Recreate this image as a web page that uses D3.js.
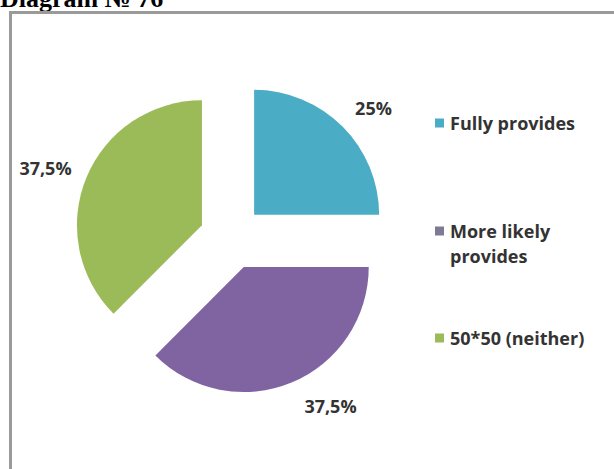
<!DOCTYPE html>
<html>
<head>
<meta charset="utf-8">
<script src="https://cdn.jsdelivr.net/npm/d3@7"></script>
<style>
  html, body { margin: 0; padding: 0; background: #fff; }
  svg { display: block; }
</style>
</head>
<body>
<svg id="chart" width="614" height="469"></svg>
<script>
const categories = ["Fully provides", "More likely provides", "50*50 (neither)"];
const values = [25, 37.5, 37.5];
const valueLabels = ["25%", "37,5%", "37,5%"];
const legendLines = [["Fully provides"], ["More likely", "provides"], ["50*50 (neither)"]];
const colors = ["#4BACC6", "#8064A2", "#9BBB59"];
const legendColors = ["#4BACC6", "#7F7A93", "#9BBB59"];

const svg = d3.select("#chart");

// title (cut off at the top, as in the reference)
svg.append("text")
  .attr("x", 0).attr("y", 7)
  .attr("font-family", "Liberation Serif, Times New Roman, serif")
  .attr("font-weight", "bold")
  .attr("font-size", 26)
  .attr("fill", "#000")
  .text("Diagram № 76");

// chart frame
svg.append("rect")
  .attr("x", 10.5).attr("y", 12.5)
  .attr("width", 640).attr("height", 500)
  .attr("fill", "#fff")
  .attr("stroke", "#9a9a9a")
  .attr("stroke-width", 3);

const cx = 231.5, cy = 237.5, r = 125, explode = 32;

const pie = d3.pie().sort(null).value(d => d);
const arcs = pie(values);
const arc = d3.arc().innerRadius(0).outerRadius(r);

const g = svg.append("g").attr("transform", `translate(${cx},${cy})`);

g.selectAll("path.slice")
  .data(arcs)
  .join("path")
  .attr("class", "slice")
  .attr("transform", d => {
    const a = (d.startAngle + d.endAngle) / 2;
    return `translate(${explode * Math.sin(a)},${-explode * Math.cos(a)})`;
  })
  .attr("d", arc)
  .attr("fill", (d, i) => colors[i]);

// data labels
const labelPos = [[142, -130], [99, 168], [-186, -70]];
g.selectAll("text.lbl")
  .data(arcs)
  .join("text")
  .attr("class", "lbl")
  .attr("x", (d, i) => labelPos[i][0])
  .attr("y", (d, i) => labelPos[i][1])
  .attr("text-anchor", "middle")
  .attr("dominant-baseline", "central")
  .attr("font-family", "Open Sans, sans-serif")
  .attr("font-weight", "bold")
  .attr("font-size", 18)
  .attr("fill", "#333")
  .text((d, i) => valueLabels[i]);

// legend
const legendY = [123, 231, 338];
const lg = svg.append("g");
categories.forEach((c, i) => {
  lg.append("rect")
    .attr("x", 435).attr("y", legendY[i] - 4.5)
    .attr("width", 9).attr("height", 9)
    .attr("fill", legendColors[i]);
  const t = lg.append("text")
    .attr("x", 450).attr("y", legendY[i])
    .attr("dominant-baseline", "central")
    .attr("font-family", "Open Sans, sans-serif")
    .attr("font-weight", "bold")
    .attr("font-size", 18)
    .attr("fill", "#333");
  legendLines[i].forEach((ln, j) => {
    t.append("tspan").attr("x", 450).attr("dy", j === 0 ? 0 : 25).text(ln);
  });
});
</script>
</body>
</html>
